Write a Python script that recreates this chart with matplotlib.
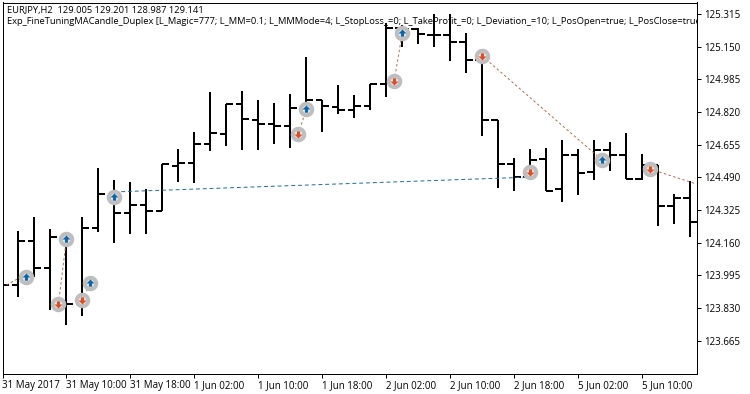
import matplotlib
matplotlib.use("Agg")
import matplotlib.pyplot as plt
from matplotlib.path import Path

opens = [123.946,123.946,124.168,124.032,124.188,123.850,124.234,124.406,124.310,124.350,124.320,124.547,124.562,124.658,124.709,124.860,124.780,124.759,124.749,124.840,124.881,124.845,124.830,124.850,124.961,125.244,125.239,125.209,125.209,125.174,125.083,124.780,124.557,124.491,124.582,124.431,124.603,124.517,124.628,124.603,124.481,124.552,124.345,124.385]
highs = [123.946,124.219,124.289,124.229,124.188,124.289,124.537,124.476,124.466,124.431,124.557,124.633,124.719,124.921,124.860,124.926,124.881,124.865,124.911,125.098,124.881,124.956,124.906,124.961,125.270,125.260,125.244,125.315,125.315,125.219,125.083,124.780,124.587,124.633,124.638,124.678,124.633,124.678,124.668,124.714,124.608,124.552,124.406,124.471]
lows = [123.946,123.885,123.986,123.819,123.743,123.789,124.213,124.158,124.203,124.203,124.320,124.466,124.461,124.623,124.648,124.628,124.628,124.658,124.638,124.830,124.719,124.810,124.790,124.830,124.896,125.148,125.164,125.148,125.078,125.017,124.699,124.436,124.421,124.486,124.421,124.365,124.401,124.476,124.522,124.481,124.476,124.244,124.254,124.188]
closes = [123.946,124.168,124.032,124.188,123.850,124.234,124.406,124.310,124.350,124.320,124.557,124.562,124.658,124.714,124.860,124.785,124.759,124.749,124.840,124.881,124.850,124.830,124.850,124.961,125.244,125.239,125.214,125.209,125.174,125.083,124.780,124.557,124.491,124.577,124.421,124.603,124.512,124.628,124.603,124.481,124.552,124.345,124.385,124.264]

buy_x = [1.5,4,5.5,7,19,25,37.5]
buy_y = [123.986,124.178,123.956,124.390,124.835,125.219,124.577]
sell_x = [3.5,5,18.5,24.5,30,33,40.5]
sell_y = [123.850,123.870,124.709,124.977,125.103,124.517,124.532]

red_x = [(0.25,1.5),(3.5,4),(5,5.5),(18.5,19),(24.5,25),(30,37.5),(40.5,43.4)]
red_y = [(123.946,124.001),(123.850,124.178),(123.870,123.956),(124.709,124.835),(124.977,125.219),(125.103,124.577),(124.532,124.456)]
blue_x = (7,33)
blue_y = (124.416,124.491)

ytick_vals = [125.315,125.150,124.985,124.820,124.655,124.490,124.325,124.160,123.995,123.830,123.665]
xtick_idx = [0,4,8,12,16,20,24,28,32,36,40]
xtick_labels = ["31 May 2017","31 May 10:00","31 May 18:00","1 Jun 02:00","1 Jun 10:00","1 Jun 18:00","2 Jun 02:00","2 Jun 10:00","2 Jun 18:00","5 Jun 02:00","5 Jun 10:00"]
title1 = "EURJPY,H2  129.005 129.201 128.987 129.141"
title2 = "Exp_FineTuningMACandle_Duplex [L_Magic=777; L_MM=0.1; L_MMMode=4; L_StopLoss_=0; L_TakeProfit_=0; L_Deviation_=10; L_PosOpen=true; L_PosClose=true"

PX = 0.72
W, H = 750, 394
plt.rcParams['font.family'] = ['Open Sans', 'DejaVu Sans']
fig = plt.figure(figsize=(W/100, H/100), dpi=100, facecolor='white')
L, R, T, B = 2.5, 697, 2.5, 373.5
ax = fig.add_axes([L/W, 1-B/H, (R-L)/W, (B-T)/H])
ax.set_xlim((L-2)/16, (R-2)/16)
ax.set_ylim(125.386-0.005054*B, 125.386-0.005054*T)

idx = list(range(len(opens)))
tick = 0.42
ax.vlines(idx, lows, highs, color='black', lw=2*PX, capstyle='butt', zorder=2)
ax.hlines(opens, [i-tick for i in idx], idx, color='black', lw=2*PX, zorder=2)
ax.hlines(closes, idx, [i+tick for i in idx], color='black', lw=2*PX, zorder=2)

for xs, ys in zip(red_x, red_y):
    ax.plot(xs, ys, color='#B5694A', lw=0.7, ls=(0, (2.5, 2.5)), zorder=3)
ax.plot(blue_x, blue_y, color='#1F6A95', lw=0.7, ls=(0, (4, 3)), zorder=3)

up = Path([(0,1),(1,0),(0.4,0),(0.4,-0.8),(-0.4,-0.8),(-0.4,0),(-1,0),(0,1)], closed=True)
down = Path([(0,-1),(1,0),(0.4,0),(0.4,0.8),(-0.4,0.8),(-0.4,0),(-1,0),(0,-1)], closed=True)
ring = dict(ls='none', marker='o', ms=11.5*PX, mfc='#EDEDED', mec='#BEBEBE', mew=4*PX, zorder=4)
ax.plot(buy_x, buy_y, **ring)
ax.plot(sell_x, sell_y, **ring)
ax.plot(buy_x, buy_y, ls='none', marker=up, ms=8*PX, mfc='#0F66A6', mec='none', zorder=5)
ax.plot(sell_x, sell_y, ls='none', marker=down, ms=8*PX, mfc='#DC4F26', mec='none', zorder=5)

for s in ax.spines.values():
    s.set_linewidth(1*PX)
ax.yaxis.tick_right()
ax.set_yticks(ytick_vals)
ax.set_yticklabels([f"{v:.3f}" for v in ytick_vals], fontsize=7.0)
ax.set_xticks(xtick_idx)
ax.set_xticklabels(xtick_labels, fontsize=7.0, ha='left')
ax.tick_params(axis='y', length=4*PX, width=1*PX, pad=2)
ax.tick_params(axis='x', length=4*PX, width=1*PX, pad=2)

ax.text(4.5/(R-L), 1-(10-T)/(B-T), title1, transform=ax.transAxes, fontsize=6.75, va='center', ha='left', clip_on=True, zorder=6)
ax.text(4.5/(R-L), 1-(21-T)/(B-T), title2, transform=ax.transAxes, fontsize=6.75, va='center', ha='left', clip_on=True, zorder=6)

fig.savefig('out.png', dpi=100)
